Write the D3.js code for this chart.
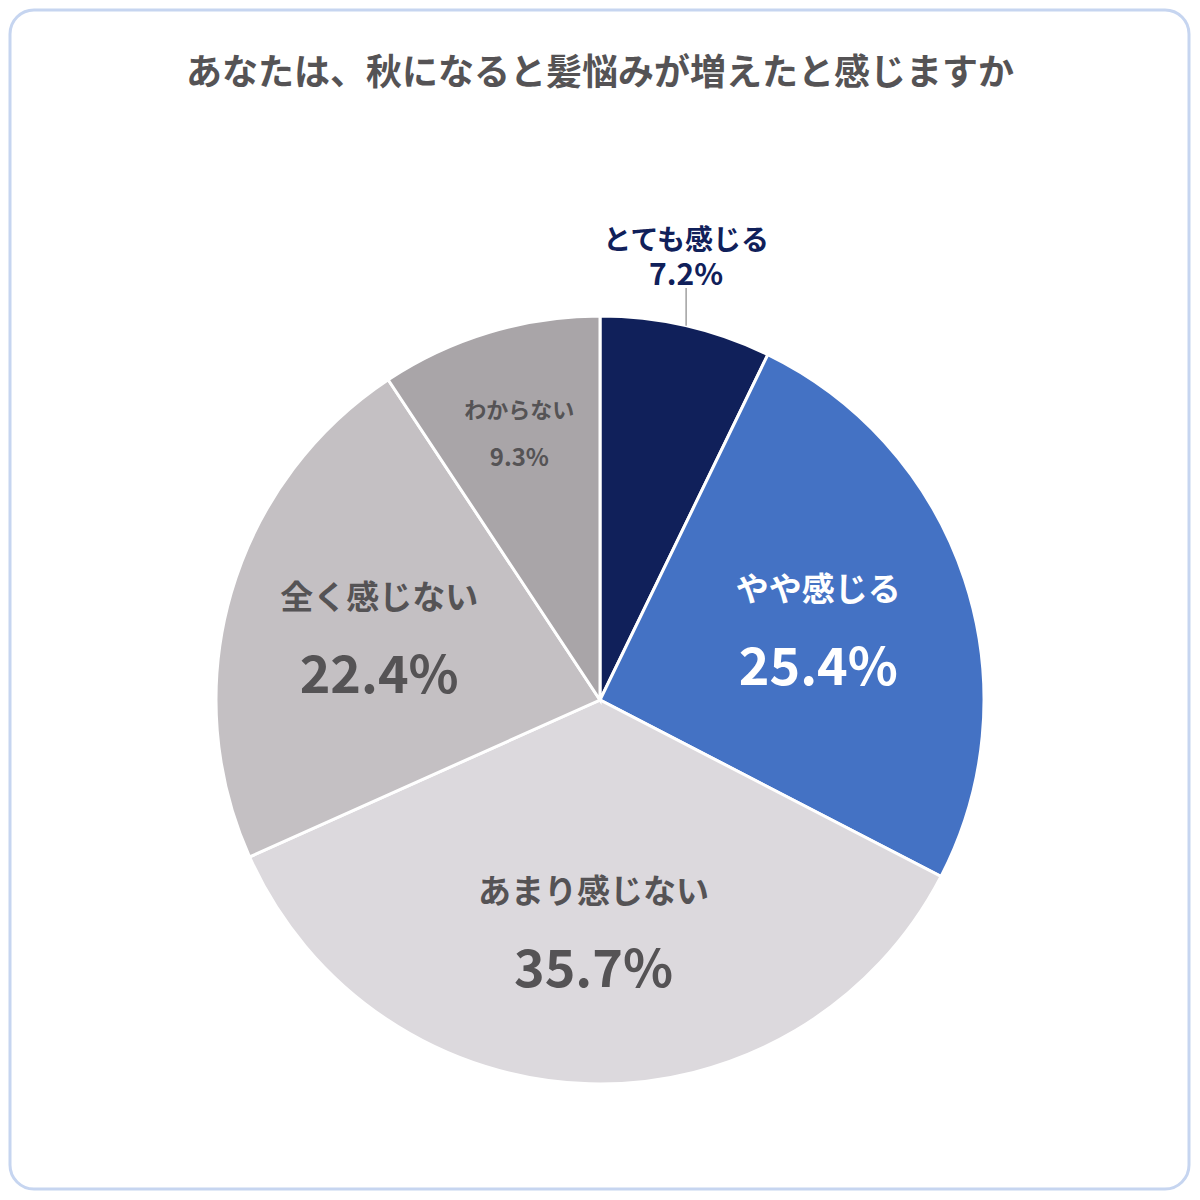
<!DOCTYPE html>
<html>
<head>
<meta charset="utf-8">
<script src="https://cdn.jsdelivr.net/npm/d3@7"></script>
<style>
  body { margin:0; background:#fff; }
  text { font-family:"Noto Sans CJK JP","Noto Sans",sans-serif; font-weight:700; }
</style>
</head>
<body>
<div id="canvas"></div>
<script>
var title = 'あなたは、秋になると髪悩みが増えたと感じますか';
var categories = ['とても感じる','やや感じる','あまり感じない','全く感じない','わからない'];
var values = [7.2,25.4,35.7,22.4,9.3];
var colors = ['#10205a','#4472c4','#dcd9dd','#c4c0c3','#a9a5a8'];
var textColors = ['#10205a','#ffffff','#555355','#555355','#555355'];

var width = 1200, height = 1200;
var cx = 600, cy = 700, R = 384;

var svg = d3.select('#canvas')
    .append('svg')
    .attr('width',width)
    .attr('height',height);

// frame
svg.append('rect')
    .attr('x',10).attr('y',10)
    .attr('width',1179).attr('height',1179)
    .attr('rx',24).attr('ry',24)
    .style('fill','#fff')
    .style('stroke','#c6d5f0')
    .style('stroke-width','3px');

svg.append('text')
    .attr('x',600).attr('y',85)
    .attr('text-anchor','middle')
    .style('font-size','36px')
    .style('fill','#555355')
    .text(title);

var data = categories.map(function(c,i){ return {name:c, value:values[i], i:i}; });

var pie = d3.pie().sort(null).value(function(d){ return d.value; });
var arcs = pie(data);

var arc = d3.arc().innerRadius(0).outerRadius(R);

var plot = svg.append('g').attr('transform','translate('+cx+','+cy+')');

plot.selectAll('path.slice')
    .data(arcs)
    .enter()
    .append('path')
    .attr('class','slice')
    .attr('d',arc)
    .style('fill',function(d){ return colors[d.data.i]; })
    .style('stroke','#fff')
    .style('stroke-width','3px');

// label radius / sizes / baseline offsets per slice
var labelR = [0,230,230,230,280];
var nameSize = [28,33,33,33,22];
var pctSize = [30,52,52,52,24];
var nameDy = [0,-27,-27,-27,-14];
var pctDy = [0,57,57,57,34];

arcs.forEach(function(a){
    var i = a.data.i;
    var mid = (a.startAngle + a.endAngle)/2;
    var g = plot.append('g');
    var pct = a.data.value.toFixed(1) + '%';
    if(i === 0){
        // outside label with leader line, two lines in one text
        var ex = R*Math.sin(mid), ey = -R*Math.cos(mid);
        g.append('line')
            .attr('x1',ex).attr('x2',ex)
            .attr('y1',ey).attr('y2',-412)
            .style('stroke','#a0a0a0')
            .style('stroke-width','1.5px');
        var t = g.append('text')
            .attr('text-anchor','middle')
            .style('fill',textColors[i]);
        t.append('tspan')
            .attr('x',ex).attr('y',-450)
            .style('font-size',nameSize[i]+'px')
            .text(a.data.name);
        t.append('tspan')
            .attr('x',ex).attr('y',-415)
            .style('font-size',pctSize[i]+'px')
            .text(pct);
        return;
    }
    var lx = labelR[i]*Math.sin(mid), ly = -labelR[i]*Math.cos(mid);
    g.append('text')
        .attr('x',lx).attr('y',ly + nameDy[i])
        .attr('text-anchor','middle')
        .style('font-size',nameSize[i]+'px')
        .style('fill',textColors[i])
        .text(a.data.name);
    g.append('text')
        .attr('x',lx).attr('y',ly + pctDy[i])
        .attr('text-anchor','middle')
        .style('font-size',pctSize[i]+'px')
        .style('fill',textColors[i])
        .text(pct);
});
</script>
</body>
</html>
